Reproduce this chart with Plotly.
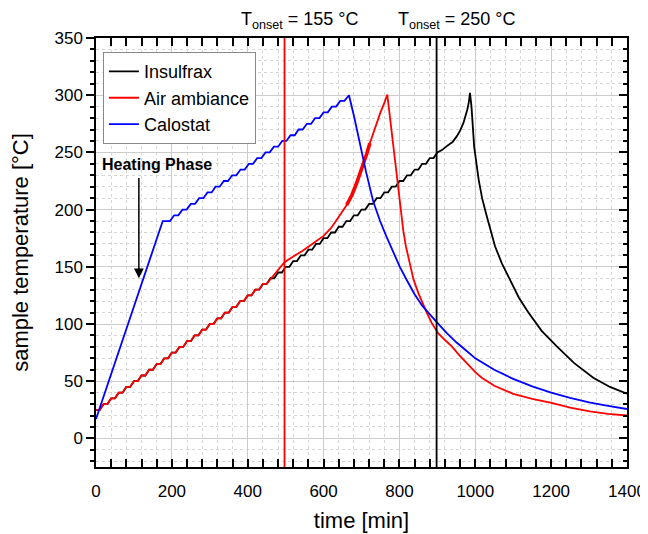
import numpy as np
import plotly.graph_objects as go

# ---------------- data ----------------
ins_t = [0, 10, 20, 30, 40, 50, 60, 70, 80, 90, 100, 110, 120, 130, 140, 150, 160, 170, 180, 190,
         200, 210, 220, 230, 240, 250, 260, 270, 280, 290, 300, 310, 320, 330, 340, 350, 360, 370, 380, 390,
         400, 410, 420, 430, 440, 450, 460, 470, 480, 490, 500, 510, 520, 530, 540, 550, 560, 570, 580, 590,
         600, 610, 620, 630, 640, 650, 660, 670, 680, 690, 700, 710, 720, 730, 740, 750, 760, 770, 780, 790,
         800, 810, 820, 830, 840, 850, 860, 870, 880, 890, 900,
         912, 925, 940, 951, 960, 969, 975, 979, 983, 986,
         990, 997, 1009, 1018, 1028, 1040, 1052, 1070, 1090, 1115, 1140, 1175, 1215, 1260, 1311, 1355, 1400]
ins_T = [25, 25, 30, 30, 35, 35, 40, 40, 45, 45, 50, 50, 55, 55, 60, 60, 65, 65, 70, 70,
         75, 75, 80, 80, 85, 85, 90, 90, 95, 95, 100, 100, 105, 105, 110, 110, 115, 115, 120, 120,
         125, 125, 130, 130, 135, 135, 140, 140, 145, 145, 150, 150, 155, 155, 160, 160, 165, 165, 170, 170,
         175, 175, 180, 180, 185, 185, 190, 190, 195, 195, 200, 200, 205, 205, 210, 210, 215, 215, 220, 220,
         225, 225, 230, 230, 235, 235, 240, 240, 245, 245, 250,
         252, 255.5, 259, 264, 269, 276, 282, 287.5, 294, 302,
         290, 255, 226, 210, 197, 182, 168, 153, 139, 123, 110, 94, 80.5, 66, 53, 45, 39]

air_t = [0, 10, 20, 30, 40, 50, 60, 70, 80, 90, 100, 110, 120, 130, 140, 150, 160, 170, 180, 190,
         200, 210, 220, 230, 240, 250, 260, 270, 280, 290, 300, 310, 320, 330, 340, 350, 360, 370, 380, 390,
         400, 410, 420, 430, 440, 450,
         462, 475, 487, 497, 520, 545, 570, 600, 620, 635, 650, 661, 675, 687, 697, 705, 714, 722, 731,
         740, 750, 760, 768,
         776, 784, 793, 803, 810, 817, 827, 837, 850, 860, 872, 885, 902, 920, 938, 957, 977, 1000, 1017,
         1050, 1100, 1150, 1201, 1250, 1302, 1350, 1400]
air_T = [25, 25, 30, 30, 35, 35, 40, 40, 45, 45, 50, 50, 55, 55, 60, 60, 65, 65, 70, 70,
         75, 75, 80, 80, 85, 85, 90, 90, 95, 95, 100, 100, 105, 105, 110, 110, 115, 115, 120, 120,
         125, 125, 130, 130, 135, 135,
         140, 145, 150, 154, 159, 164, 170, 177, 184, 191, 198, 204, 213, 223, 232, 241, 249, 258, 267,
         276, 285, 293, 300.5,
         278, 255, 226, 197, 182, 168, 153, 139, 127, 119, 110, 101, 92, 86, 80.5, 73, 66, 58, 53,
         46, 39, 34.5, 31, 27, 23.6, 21.5, 20]

cal_t = [0, 176, 195, 206, 217, 228, 239, 250, 261, 272, 283, 294, 305, 315, 326, 337, 348, 359, 370,
         381, 392, 403, 414, 425, 436, 447, 458, 469, 480, 491, 502, 513, 524, 534, 545, 556, 567,
         578, 589, 600, 611, 622, 633, 644, 655, 667,
         680, 696, 712, 731, 749, 765, 780, 801, 820, 840, 860, 880, 900, 925, 950, 975, 1000,
         1050, 1100, 1150, 1200, 1250, 1300, 1350, 1400]
cal_T = [17, 190, 190, 195, 195, 200, 200, 205, 205, 210, 210, 215, 215, 220, 220, 225, 225, 230, 230,
         235, 235, 240, 240, 245, 245, 250, 250, 255, 255, 260, 260, 265, 265, 270, 270, 275, 275,
         280, 280, 285, 285, 290, 290, 295, 295, 300,
         282, 257, 233, 207, 190, 177, 166, 150, 138, 126, 116, 108, 101, 92, 84, 77, 70,
         60, 52, 45.5, 40, 35.5, 31.5, 28.5, 25.7]

onset_air = 497
onset_ins = 898
FONT = "Arial, 'Liberation Sans', sans-serif"

fig = go.Figure()
fig.add_trace(go.Scatter(x=ins_t, y=ins_T, mode="lines", name="Insulfrax",
                         line=dict(color="#000000", width=1.8)))
fig.add_trace(go.Scatter(x=air_t, y=air_T, mode="lines", name="Air ambiance",
                         line=dict(color="#ff0000", width=1.8)))
a_t = np.array(air_t); a_T = np.array(air_T)
m = (a_t >= 655) & (a_t <= 722)
fig.add_trace(go.Scatter(x=a_t[m], y=a_T[m], mode="lines", showlegend=False, hoverinfo="skip",
                         line=dict(color="#ff0000", width=3.6)))
fig.add_trace(go.Scatter(x=cal_t, y=cal_T, mode="lines", name="Calostat",
                         line=dict(color="#0000ff", width=1.8)))
# empty trace to activate right-side tick axis
fig.add_trace(go.Scatter(x=[], y=[], yaxis="y2", showlegend=False, hoverinfo="skip"))

fig.add_shape(type="line", xref="x", yref="paper", x0=onset_air, x1=onset_air, y0=0, y1=1,
              line=dict(color="#ff0000", width=1.8))
fig.add_shape(type="line", xref="x", yref="paper", x0=onset_ins, x1=onset_ins, y0=0, y1=1,
              line=dict(color="#000000", width=1.8))

fig.add_annotation(text="T<sub>onset</sub> = 155 °C", xref="paper", yref="paper",
                   x=0.384, y=1.04, xanchor="center", yanchor="middle", showarrow=False,
                   font=dict(family=FONT, size=18, color="#000"))
fig.add_annotation(text="T<sub>onset</sub> = 250 °C", xref="paper", yref="paper",
                   x=0.679, y=1.04, xanchor="center", yanchor="middle", showarrow=False,
                   font=dict(family=FONT, size=18, color="#000"))
fig.add_annotation(text="<b>Heating Phase</b>", xref="x", yref="y", x=162, y=239,
                   xanchor="center", yanchor="middle", showarrow=False,
                   font=dict(family=FONT, size=16, color="#000"))
fig.add_annotation(text="", xref="x", yref="y", x=113, y=140, axref="x", ayref="y",
                   ax=113, ay=229, showarrow=True, arrowhead=2, arrowsize=1.3,
                   arrowwidth=1.5, arrowcolor="#000")

grid_major = "#cccccc"
grid_minor = "#d6d6d6"
# the page body adds an 8 px offset, so the figure is 8 px smaller than the window
fig.update_layout(
    width=640, height=526, autosize=False,
    margin=dict(l=88, r=21, t=30, b=67),
    paper_bgcolor="white", plot_bgcolor="white",
    font=dict(family=FONT, size=17, color="#000"),
    showlegend=True,
    legend=dict(x=0.013, y=0.967, xanchor="left", yanchor="top",
                bgcolor="white", bordercolor="#888888", borderwidth=1,
                font=dict(family=FONT, size=18, color="#000"), tracegroupgap=0),
    xaxis=dict(range=[0, 1400], tick0=0, dtick=200, ticks="inside", ticklen=8, tickwidth=1.5,
               tickcolor="#000", showline=True, linecolor="#000", linewidth=1.5, mirror="allticks",
               showgrid=True, gridcolor=grid_major, gridwidth=1, zeroline=False, automargin=False,
               tickfont=dict(size=17), ticklabelstandoff=8,
               title=dict(text="time [min]", font=dict(size=22), standoff=12),
               minor=dict(dtick=40, tick0=0, ticks="inside", ticklen=4, tickwidth=1.5,
                          tickcolor="#000", showgrid=True, gridcolor=grid_minor, griddash="dot")),
    yaxis=dict(range=[-25, 350], tick0=0, dtick=50, ticks="outside", ticklen=8, tickwidth=1.5,
               tickcolor="#000", showline=True, linecolor="#000", linewidth=1.5, mirror=True,
               showgrid=True, gridcolor=grid_major, gridwidth=1, zeroline=False, automargin=False,
               tickfont=dict(size=17),
               title=dict(text="sample temperature [°C]", font=dict(size=22), standoff=21),
               minor=dict(dtick=10, tick0=0, ticks="outside", ticklen=4, tickwidth=1.5,
                          tickcolor="#000", showgrid=True, gridcolor=grid_minor, griddash="dot")),
    yaxis2=dict(overlaying="y", side="right", range=[-25, 350], tick0=0, dtick=50,
                ticks="inside", ticklen=8, tickwidth=1.5, tickcolor="#000", automargin=False,
                showticklabels=False, showgrid=False, zeroline=False, showline=False,
                minor=dict(dtick=10, tick0=0, ticks="inside", ticklen=4, tickwidth=1.5,
                           tickcolor="#000", showgrid=False)),
)

fig.write_html("out.html")
